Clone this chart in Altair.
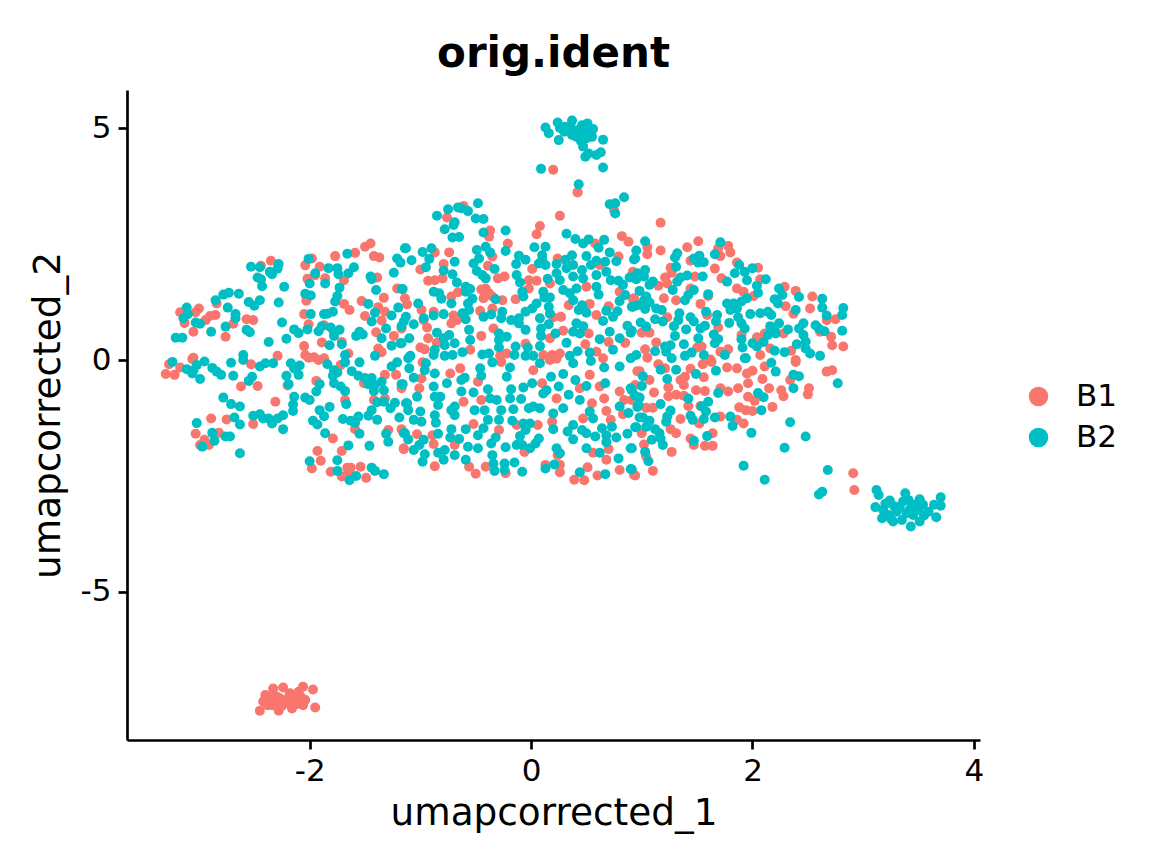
import altair as alt
import pandas as pd

b1_main = [
(-2.35,2.14),(-2.44,2.03),(-1.98,2.19),(-1.91,2.01),(-2.04,2.04),(-1.77,2.24),(-1.59,2.31),(-1.50,2.44),(-1.45,2.51),(-1.42,2.24),(-1.37,2.21),(-1.39,1.78),(-1.69,1.72),(-1.86,1.76),(-2.02,1.75),(-1.95,1.83),(-1.21,1.54),(-1.53,1.27),(-1.33,1.34),(-1.69,1.21),(-1.64,1.08),(-1.50,.95),(-1.38,1.14),(-1.32,1.04),(-1.35,.85),(-2.03,1.28),(-2.05,.99),(-2.01,.77),(-1.87,.75),(-1.40,.60),(-1.24,.52),(-1.89,.38),(-1.71,.39),(-2.05,.30),(-1.38,.25),(-1.35,.17),(-1.65,.14),(-2.04,.11),(-1.96,.06),(-1.87,.04),(-2.29,.09),(-3.05,.05),(-3.0,1.11),(-3.03,1.03),(-3.17,1.03),(-3.13,.80),(-3.05,.61),(-2.94,.86),(-2.90,.95),(-2.85,.97),(-2.84,1.22),(-2.69,.78),(-2.76,.50),(-2.57,.88),(-2.51,.86),
(-3.30,-.30),(-3.22,-.32),(-3.27,-.09),(-3.17,-.16),(-2.62,-.57),(-2.47,-.56),(-2.53,-.09),(-2.31,-.90),(-2.20,-.55),(-1.94,-.45),(-2.89,-1.26),(-2.75,-1.28),(-2.51,-1.38),(-3.03,-1.59),(-2.95,-1.72),(-2.91,-1.83),(-2.99,-1.83),(-2.82,-1.57),(-1.79,-1.69),(-1.59,-1.49),(-1.71,-1.96),(-1.93,-1.96),(-1.90,-2.17),(-1.98,-2.34),(-1.81,-2.41),(-1.66,-2.32),(-1.63,-2.32),(-1.65,-2.42),(-1.71,-2.51),(-1.54,-2.30),(-1.49,-2.54),(-1.68,-.86),(-1.42,-.86),(-1.32,-.32),(-1.22,-.32),(-1.29,-1.51),(-1.17,-1.49),(-1.15,-1.92),(-1.17,-.61),(-1.32,-.83),(-1.72,-.11),(-1.92,.0),(-2.01,.05),(-1.51,-.50),(-3.06,.02),
(.42,3.61),(.26,3.11),(.75,3.23),(-.76,3.07),(-.61,3.32),(-.37,2.79),(-.38,2.66),(.08,2.89),(.05,2.71),(-.21,2.51),(-.74,2.32),(-.79,2.07),(-1.0,1.95),(-.87,2.32),(-.35,2.23),(-.39,2.03),(-.30,1.76),(-.24,1.80),(-.93,1.71),(-.87,1.72),(-.80,1.76),(.01,1.96),(.24,2.19),(-.02,1.72),(.05,1.71),(-.02,1.54),(.17,1.65),(-.14,1.31),(-.26,1.29),(-.45,1.52),(-.41,1.54),(-.38,1.44),(-.43,1.33),(-.35,1.37),(-.66,1.46),(-1.14,1.33),(-1.12,1.20),(-.99,1.08),(-.97,.86),(-.94,.70),(-.88,1.04),(-.72,1.37),(-.70,.96),(-.67,.86),(-.72,.79),(-.46,1.06),(-.35,1.11),(-.45,.52),(-.34,.68),(-.93,.47),(-1.0,.27),(-.96,.23),(-.85,.37),(-.55,.22),(.34,1.18),(.53,1.21),(.59,.97),(.70,1.16),(.82,2.67),(.88,2.55),(.79,2.23),(.58,2.51),(.62,2.05),(.50,1.58),(.80,1.47),(.93,1.33),(.27,.93),(.20,.92),(.29,.63),(.17,.47),(.52,.57),(.49,.34),(.70,.39),(.85,.37),(.59,.18),(.65,.04),(-.05,.35),(-.22,.14),(-.28,.09),(.11,.11),(.19,.11),(.26,.14),(-1.17,.68),
(-.98,-.05),(-.99,-.40),(-1.01,-.61),(-.73,-.29),(-.64,-.18),(-.48,-.47),(-.45,-.86),(-.61,-.90),(-.27,-.04),(.02,-.22),(.23,.03),(.17,0),(.10,-.50),(.23,-.83),(.44,-.61),(.53,-.32),(.62,-.57),(.66,-.83),(.80,-.68),(.84,-.86),(.68,-1.10),(.72,-1.29),(.83,-1.17),(.91,-.86),(.96,-.24),(-.52,-1.38),(-1.03,-1.60),(-.89,-1.62),(-.88,-1.81),(-1.15,-1.90),(-.69,-1.83),(-.87,-2.29),(-.56,-2.30),(-.50,-2.45),(-.41,-2.30),(-.23,-2.44),(-.06,-1.98),(.06,-1.40),(.19,-1.33),(-.29,-1.51),(-.13,-1.40),(.13,-2.26),(.26,-2.42),(.24,-2.05),(.26,-2.26),(.39,-2.58),(.48,-2.59),(.51,-2.31),(.60,-2.49),(.80,-2.37),(.94,-2.49),(.68,-2.15),(.70,-1.92),(.56,-2.0),(.47,-1.26),(.55,-.93),
(1.17,2.96),(1.51,2.56),(1.41,2.43),(1.78,2.46),(1.80,2.32),(1.69,2.41),(1.71,2.24),(1.05,2.43),(1.05,2.28),(1.17,2.36),(1.44,2.14),(1.26,1.99),(1.27,1.88),(.92,1.90),(1.21,1.78),(1.23,1.65),(1.15,1.60),(1.48,1.80),(1.66,1.97),(1.72,1.76),(1.86,2.10),(2.05,1.99),(2.07,1.74),(1.86,1.54),(1.92,1.47),(2.01,1.38),(2.29,1.58),(2.39,1.49),(2.54,1.37),(2.30,1.16),(2.37,1.0),(2.52,1.11),(2.67,.86),(2.75,.88),(2.71,.50),(2.72,.32),(2.82,.29),(2.61,.61),(1.44,1.54),(1.20,1.33),(1.31,1.29),(1.60,1.38),(1.53,1.21),(1.59,.97),(.92,1.31),(1.23,.92),(1.69,.70),(1.0,.59),(1.07,.59),(1.13,.38),(1.50,.27),(1.54,.29),(1.78,.23),(1.71,.18),(2.11,.57),(2.04,.49),(2.28,.57),(2.16,.25),(1.90,.54),(2.35,.20),(2.07,.11),(1.03,.23),(1.62,.01),(2.39,.0),
(2.91,-2.44),(2.92,-2.80),(2.72,-.22),(2.67,-.25),(2.51,-.61),(2.50,-.74),(2.39,-.04),(2.34,-.43),(2.26,-.65),(2.28,-.78),(2.18,-1.01),(2.15,-.61),(2.09,-.41),(1.96,-.50),(1.87,-.61),(1.96,-.79),(2.02,-.88),(1.88,-1.02),(1.94,-1.08),(2.0,-1.10),(1.95,-.29),(2.0,-.23),(1.86,-.18),(2.11,-.14),(1.78,-.68),(1.71,-.61),(1.56,-.37),(1.49,-.65),(1.57,-.67),(1.42,-.99),(1.53,-.99),(1.35,-1.27),(1.52,-1.37),(1.71,-1.22),(1.92,-1.37),(1.86,-1.29),(1.31,-1.58),(1.26,-1.49),(1.27,-1.98),(1.44,-1.69),(1.47,-1.83),(1.57,-1.85),(1.64,-1.85),(1.64,-1.58),(1.10,-2.39),(.93,-2.48),(1.02,-1.82),(1.04,-2.08),(1.0,-1.58),(1.11,-.70),(1.24,-.78),(1.31,-.75),(1.38,-.77),(1.38,-.54),(1.24,-.59),(1.39,-.36),(1.35,-.43),(1.07,-.43),(1.04,-1.03),(1.10,-1.03),(.94,-.54),(.98,-.24),(1.15,-.09),(1.05,.05),(1.21,-.18),(1.44,-.19),(1.55,-.09),(1.63,-.04),(1.77,-.16),
(.20,4.10),(.42,3.62),
]

b1_cluster = [
(-2.45,-7.56),(-2.40,-7.22),(-2.42,-7.36),(-2.33,-7.08),(-2.24,-7.06),(-2.34,-7.44),(-2.28,-7.56),(-2.27,-7.29),(-2.18,-7.18),(-2.16,-7.51),(-2.13,-7.29),(-2.06,-7.04),(-2.10,-7.15),(-2.04,-7.33),(-2.06,-7.44),(-1.97,-7.10),(-1.95,-7.49),(-2.36,-7.29),(-2.22,-7.40),(-2.38,-7.44),(-2.30,-7.25),(-2.20,-7.30),(-2.12,-7.42),(-2.40,-7.30),(-2.33,-7.20),(-2.25,-7.45),(-2.15,-7.38),(-2.08,-7.26),(-2.28,-7.35),
]

b2_main = [
(-3.11,1.13),(-3.14,.90),(-3.10,.99),(-3.21,.48),(-3.15,.48),(-3.03,.81),(-2.99,.78),(-2.89,.61),(-2.85,1.29),(-2.78,1.41),(-2.73,1.45),(-2.64,1.43),(-2.74,1.13),(-2.67,.99),(-2.67,.90),(-2.76,.72),(-2.55,1.25),(-2.50,1.17),(-2.45,1.29),(-2.57,.65),(-2.54,.60),(-2.37,.39),(-2.25,.81),(-2.28,1.24),(-2.23,1.58),(-2.43,1.59),(-2.47,1.78),(-2.44,1.74),(-2.53,2.01),(-2.45,2.0),(-2.36,1.90),(-2.34,1.85),(-2.29,1.97),(-2.28,2.07),(-2.01,2.18),(-1.95,1.87),(-1.83,1.98),(-1.75,1.98),(-1.74,1.85),(-1.65,1.87),(-1.60,2.0),(-1.66,2.29),(-2.0,1.65),(-1.86,1.65),(-1.73,1.56),(-2.04,1.43),(-1.99,1.39),(-1.75,1.38),(-1.77,1.26),(-1.99,.99),(-1.87,.99),(-1.84,1.0),(-1.79,1.04),(-2.14,.66),(-2.10,.58),(-2.02,.66),(-1.92,.62),(-1.89,.73),(-1.81,.70),(-1.78,.61),(-1.78,.52),(-1.73,.65),(-2.21,.46),(-1.82,.32),(-1.71,.34),(-1.58,.52),(-1.55,.61),(-1.52,.55),(-1.45,1.80),(-1.44,1.74),(-1.40,1.51),(-1.47,1.21),(-1.41,1.02),(-1.44,.83),(-1.26,.96),(-1.31,.68),(-1.35,.47),(-1.26,.31),(-1.18,.36),(-1.20,1.13),(-1.17,1.53),(-1.24,1.88),(-1.18,2.10),(-1.21,2.19),(-1.14,2.41),(-1.13,.93),(-1.17,.73),(-2.60,.11),(-1.68,.11),(-1.41,.09),
(-3.24,-.04),(-3.11,-.20),(-3.05,-.22),(-3.02,-.11),(-2.95,-.03),(-3.06,-.29),(-2.99,-.41),(-2.88,-.17),(-2.84,-.25),(-2.80,-.32),(-2.71,-.06),(-2.69,-.34),(-2.60,0),(-2.52,-.36),(-2.55,-.45),(-2.45,-.14),(-2.40,-.07),(-2.33,-.07),(-2.17,-.07),(-2.14,-.18),(-2.09,-.12),(-2.10,-.32),(-2.21,-.34),(-2.19,-.52),(-1.84,-.09),(-1.78,-.22),(-1.75,-.27),(-1.79,-.34),(-1.78,-.50),(-1.72,-.57),(-1.68,-.67),(-1.91,-.52),(-1.94,-.68),(-1.68,-.05),(-1.55,-.05),(-1.62,-.24),(-1.56,-.34),(-1.50,-.39),(-1.44,-.39),(-1.47,-.52),(-1.41,-.54),(-1.35,-.47),(-1.42,-.67),(-1.33,-.65),(-1.26,-.14),(-1.21,-.05),(-1.17,-.52),(-2.78,-.81),(-2.71,-.95),(-2.63,-1.0),(-2.14,-.79),(-2.15,-.96),(-2.15,-1.10),(-2.04,-.81),(-2.0,-.86),(-1.82,-1.01),(-1.91,-1.08),(-1.87,-1.21),(-1.67,-.95),(-1.39,-.91),(-1.33,-.90),(-1.44,-1.08),(-1.23,-.92),(-1.27,-1.04),(-1.47,-1.20),(-1.39,-1.29),(-1.19,-1.24),(-1.13,-.93),(-1.70,-1.27),(-1.63,-1.31),(-1.56,-1.22),(-1.59,-1.35),(-2.51,-1.20),(-2.45,-1.17),(-2.42,-1.26),(-2.37,-1.26),(-2.34,-1.37),(-2.29,-1.26),(-2.24,-1.19),(-2.24,-1.49),(-2.68,-1.24),(-2.63,-1.39),(-3.02,-1.36),(-2.88,-1.57),(-2.86,-1.74),(-2.97,-1.87),(-2.76,-1.65),(-2.72,-1.65),(-2.63,-2.01),(-1.97,-1.31),(-1.93,-1.39),(-1.86,-1.58),(-1.55,-1.59),(-1.65,-1.84),(-1.46,-1.85),(-1.31,-1.59),(-1.29,-1.76),(-1.15,-1.58),(-2.0,-2.18),(-1.75,-2.16),(-1.75,-2.39),(-1.58,-2.50),(-1.64,-2.59),(-1.44,-2.32),(-1.41,-2.39),(-1.33,-2.46),
(-1.13,2.41),(-1.08,2.15),(-.98,2.33),(-.90,2.41),(-.92,2.18),(-.95,2.0),(-.79,1.93),(-.69,2.12),(-.71,1.85),(-.67,1.67),(-.85,3.11),(-.75,3.25),(-.66,3.29),(-.63,3.27),(-.57,3.21),(-.48,3.38),(-.50,3.05),(-.43,3.04),(-.69,2.97),(-.70,2.91),(-.78,2.82),(-.71,2.64),(-.65,2.65),(-.43,2.75),(-.23,2.79),(-.23,2.35),(-.41,2.44),(-.37,2.32),(-.49,2.37),(-.47,2.19),(-.52,2.08),(-.49,1.92),(-.44,1.83),(-.41,1.76),(-.33,1.96),(.03,2.43),(.13,2.44),(-.11,2.25),(-.05,2.16),(-.135,2.07),(-.13,1.83),(-.10,1.67),(.10,2.16),(.07,2.08),(.13,2.05),(.10,2.26),(.15,1.75),(.32,2.72),(.40,2.61),(.47,2.51),(.52,2.60),(.66,2.59),(.61,2.42),(.71,2.32),(.50,2.24),(.59,2.14),(.54,2.05),(.67,2.12),(.77,2.13),(.68,1.90),(.59,1.83),(.46,1.94),(.37,2.26),(.31,2.16),(.23,2.07),(.23,1.87),(.38,2.05),(.32,1.98),(.38,1.80),(.26,1.72),(.47,1.76),(.72,1.72),(.79,1.71),(.89,1.78),(.83,1.62),(.96,1.87),(.93,2.17),(.76,3.38),(.71,3.36),(.84,3.51),(.76,3.16),
(-1.16,1.53),(-.88,1.47),(-.83,1.44),(-.81,1.32),(-.72,1.22),(-1.02,1.22),(-.97,.90),(-.88,.96),(-.79,.99),(-.59,1.58),(-.55,1.53),(-.59,1.47),(-.53,1.32),(-.57,1.22),(-.56,1.08),(-.62,1.01),(-.59,.88),(-.32,1.31),(-.26,1.04),(-.27,.90),(-.43,.93),(-.36,.98),(-.18,.86),(-.11,.90),(-.05,1.04),(.01,1.11),(.05,1.22),(.11,1.47),(.12,1.35),(.17,1.35),(-.07,1.37),(-.08,1.47),(.16,1.15),(.17,1.0),(.08,.90),(-.05,.65),(-.11,.79),(.29,1.51),(.35,1.44),(.41,1.54),(.38,1.29),(.59,1.58),(.61,1.41),(.46,1.18),(.43,1.08),(.50,1.02),(.68,1.06),(.78,1.05),(.74,.93),(.85,1.40),(.80,1.27),(.91,1.15),(.96,1.18),(.65,.84),(.71,.61),(.87,.74),(.90,.59),(.80,.47),(.62,.45),(.74,.22),(.41,.79),(.47,.73),(.38,.61),(.44,.57),(.22,.57),(.16,.77),(.09,.68),(.09,.52),(.08,.30),(.32,.37),(.42,.19),(.53,.16),(.35,.09),(-.03,.27),(-.15,.11),(-.14,.29),(-.05,.09),(.02,.09),(-.29,.57),(-.22,.50),(-.29,.43),(-.29,.27),(-.38,.14),(-.44,.12),(-.56,.65),(-.55,.43),(-.69,.36),(-.85,.59),(-.79,.47),(-.74,.54),(-.78,.32),(-.87,.22),(-.88,.11),(-1.10,.47),(-1.15,.83),(-1.06,.77),(-1.17,.36),(-1.09,.09),(-.78,.09),(-.71,.11),(-.62,.17),
(-1.11,.04),(-1.10,-.18),(-.95,-.07),(-.96,-.22),(-1.06,-.38),(-1.16,-.52),(-.87,-.29),(-.88,-.57),(-.76,-.50),(-.63,-.43),(-.60,-.38),(-.63,-.68),(-.52,-.70),(-.46,-.18),(-.45,-.34),(-.35,-.05),(-.19,-.16),(-.22,-.36),(-.39,-.63),(-.18,-.63),(-.37,-.83),(-.31,-.86),(-.19,-.83),(-.09,-.84),(-.07,-.59),(.01,-.50),(.08,-.07),(.18,-.36),(.29,-.30),(.25,-.57),(.40,-.43),(.38,-.07),(.54,-.02),(.66,-.16),(.67,-.50),(.50,-.56),(.80,-.14),(.90,.04),(.90,-.61),(.80,-1.0),(.88,-1.14),(.97,-.97),(.95,-1.45),(.73,-1.44),(.64,-1.47),(.68,-1.62),(.68,-1.77),(.58,-1.65),(.87,-1.59),(.77,-1.67),(.90,-1.90),(.79,-2.12),(.90,-2.35),(.67,-2.46),(.44,-2.42),(.62,-2.0),(.50,-1.90),(.46,-1.51),(.50,-1.58),(.38,-1.40),(.33,-1.54),(.38,-1.71),(.53,-1.11),(.56,-1.26),(.44,-.86),(.34,-.75),(.29,-1.04),(.20,-1.15),(.11,-.72),(.14,-.65),(.02,-1.0),(-.02,-1.04),(.08,-1.04),(-.16,-1.06),(-.17,-1.31),(-.07,-1.37),(-.01,-1.37),(-.05,-1.51),(-.10,-1.64),(.07,-1.69),(.04,-1.80),(-.01,-1.90),(-.13,-1.83),(-.08,-1.83),(.20,-1.49),(.23,-1.90),(.26,-2.01),(.21,-2.25),(.13,-2.34),(-.08,-2.41),(-.15,-2.21),(-.24,-2.23),(-.24,-2.37),(-.34,-2.23),(-.33,-2.39),(-.35,-2.05),(-.23,-1.88),(-.32,-1.67),(-.36,-1.80),(-.27,-1.08),(-.29,-1.29),(-.39,-1.29),(-.43,-1.47),(-.51,-1.08),(-.42,-1.08),(-.69,-1.0),(-.72,-1.08),(-.69,-1.19),(-.87,-.79),(-.82,-.79),(-.84,-.97),(-1.03,-.79),(-1.12,-.93),(-1.11,-1.08),(-1.0,-1.11),(-.87,-1.19),(-.86,-1.35),(-.99,-1.33),(-1.06,-1.29),(-1.14,-1.58),(-1.11,-1.71),(-.97,-1.72),(-1.01,-1.83),(-1.06,-1.94),(-.96,-2.03),(-.98,-2.19),(-.79,-2.15),(-.84,-2.0),(-.78,-1.94),(-.69,-2.05),(-.84,-1.59),(-.72,-1.49),(-.73,-1.67),(-.65,-1.70),(-.59,-1.49),(-.57,-1.87),(-.48,-1.90),(-.48,-1.62),(-.59,-2.15),
(1.03,2.56),(.95,2.36),(.94,2.19),(1.32,2.30),(1.30,2.21),(1.31,2.01),(1.47,2.19),(1.52,2.25),(1.51,2.10),(1.56,2.11),(1.66,2.28),(1.71,2.54),(1.03,1.94),(1.02,1.80),(.95,1.74),(1.10,1.69),(1.07,1.62),(1.41,1.82),(1.35,1.78),(1.32,1.69),(1.28,1.51),(1.55,1.80),(1.47,1.51),(1.42,1.40),(1.39,1.29),(1.60,1.42),(.98,1.49),(1.04,1.37),(1.02,1.29),(1.07,1.24),(.92,1.15),(1.03,1.10),(1.13,1.11),(1.18,1.08),(1.12,.88),(1.19,.83),(.99,.81),(1.04,.72),(.91,.63),(1.34,1.01),(1.33,.86),(1.29,.73),(1.44,.92),(1.47,.83),(1.40,.66),(1.53,.68),(1.57,.74),(1.30,.52),(1.51,.47),(1.58,1.04),(1.68,.97),(1.67,.83),(1.79,.80),(1.77,1.22),(1.83,1.22),(1.80,1.08),(1.86,1.11),(1.90,1.26),(1.95,1.33),(1.87,.92),(1.90,.79),(1.93,.68),(1.98,.99),(2.07,1.01),(2.14,1.04),(2.17,.97),(2.04,1.60),(2.05,1.45),(2.12,1.74),(1.77,1.69),(1.88,2.05),(1.84,1.87),(1.93,1.90),(2.0,1.98),(1.95,1.72),(2.24,1.54),(2.27,1.40),(2.20,1.31),(2.23,1.22),(2.42,1.36),(2.39,1.08),(2.63,1.32),(2.63,1.13),(2.67,.96),(2.82,1.12),(2.81,.97),(2.81,.63),(2.57,.75),(2.60,.68),(2.65,.62),(2.46,.79),(2.42,.68),(2.46,.54),(2.48,.40),(2.40,.34),(2.48,.25),(2.20,.66),(2.24,.79),(2.32,.66),(2.16,.73),(2.14,.54),(2.21,.57),(2.10,.39),(2.0,.36),(2.04,.29),(1.90,.45),(1.91,.27),(1.65,.55),(1.69,.45),(1.66,.36),(1.38,.34),(1.26,.32),(1.21,.29),(1.12,.19),(1.22,.18),(.95,.11),(1.45,.16),(1.39,.09),(1.56,.11),(1.75,.11),(1.93,.04),(2.20,.20),(2.29,.17),(2.61,.09),(2.52,.14),(1.27,.04),
(1.17,-.21),(1.01,-.35),(1.0,-.56),(1.23,-.41),(1.31,-.21),(1.49,-.30),(1.67,-.23),(1.69,-.71),(1.42,-.83),(.91,-.65),(.94,-.77),(.98,-.81),(.96,-1.01),(1.17,-.95),(1.26,-1.09),(1.23,-1.22),(1.22,-1.33),(.98,-1.24),(1.01,-1.24),(1.07,-1.31),(1.04,-1.44),(.94,-1.45),(1.12,-1.49),(1.16,-1.58),(1.17,-1.69),(1.09,-1.72),(1.19,-1.83),(1.03,-1.98),(1.06,-2.18),(.91,-1.90),(.91,-2.36),(1.44,-1.20),(1.46,-1.29),(1.60,-.90),(1.54,-1.0),(1.58,-1.11),(1.56,-1.27),(1.66,-1.24),(1.80,-1.22),(1.82,-1.42),(1.47,-1.74),(1.59,-1.64),(1.99,-1.57),(2.05,-.71),(2.10,-.80),(2.08,-1.08),(2.17,-.06),(2.21,-.25),(2.37,-.32),(2.42,-.35),(2.37,-.61),(2.77,-.50),(1.94,.04),(2.34,-1.34),(2.48,-1.65),(2.29,-1.89),(1.92,-2.28),(2.11,-2.58),(2.68,-2.37),(2.63,-2.84),(2.60,-2.90),
]

b2_top = [
(.13,5.01),(.16,4.89),(.24,5.12),(.25,4.74),(.26,5.0),(.31,5.03),(.37,5.16),(.37,4.85),(.41,4.81),(.46,5.06),(.51,5.10),(.47,4.89),(.56,4.98),(.55,4.81),(.50,4.78),(.65,4.75),(.47,4.60),(.49,4.38),(.52,4.45),(.59,4.42),(.63,4.48),(.65,4.15),(.09,4.12),(.43,3.79),(.42,4.95),(.36,5.0),(.50,5.0),(.30,4.92),(.45,4.72),(.54,4.90),
]

b2_cluster = [
(3.12,-2.80),(3.14,-2.91),(3.11,-3.17),(3.17,-3.41),(3.18,-3.23),(3.24,-3.03),(3.27,-3.48),(3.23,-3.34),(3.38,-2.87),(3.35,-3.45),(3.33,-3.16),(3.41,-3.02),(3.43,-3.59),(3.45,-3.34),(3.51,-3.0),(3.51,-3.48),(3.54,-3.12),(3.50,-3.23),(3.59,-3.27),(3.66,-3.39),(3.70,-2.96),(3.70,-3.14),(3.64,-3.12),(3.30,-3.27),(3.39,-3.30),(3.20,-3.10),(3.28,-3.15),(3.46,-3.12),(3.42,-3.22),(3.55,-3.35),(3.25,-3.42),(3.36,-3.05),
]

x_ticks = [-2, 0, 2, 4]
y_ticks = [-5, 0, 5]
groups = ["B1", "B2"]
colors = ["#F8766D", "#00BFC4"]

rows = [("B1", x, y) for x, y in b1_main + b1_cluster] + \
       [("B2", x, y) for x, y in b2_main + b2_top + b2_cluster]
df = pd.DataFrame(rows, columns=["orig_ident", "umap1", "umap2"])

FONT = "DejaVu Sans"
chart = (
    alt.Chart(df, title=alt.Title("orig.ident", fontSize=42, font=FONT, fontWeight="bold",
                                  anchor="middle", color="black", offset=14))
    .mark_circle(size=100, opacity=1)
    .encode(
        x=alt.X("umap1:Q", scale=alt.Scale(domain=[-3.65, 4.055], nice=False, zero=False),
                axis=alt.Axis(values=x_ticks, title="umapcorrected_1", grid=False,
                              labelExpr="'' + datum.value")),
        y=alt.Y("umap2:Q", scale=alt.Scale(domain=[-8.19, 5.82], nice=False, zero=False),
                axis=alt.Axis(values=y_ticks, title="umapcorrected_2", grid=False, titlePadding=13,
                              labelExpr="'' + datum.value")),
        color=alt.Color("orig_ident:N", scale=alt.Scale(domain=groups, range=colors),
                        legend=alt.Legend(title=None, orient="none", legendX=896, legendY=291,
                                          symbolType="circle", symbolSize=380, labelFontSize=31,
                                          labelFont=FONT, labelColor="black", rowPadding=9,
                                          labelOffset=22, symbolStrokeWidth=0)),
    )
    .properties(width=853, height=650, padding={"left": 21, "top": 25, "right": 5, "bottom": 5})
    .configure_view(stroke=None)
    .configure_axis(domainColor="black", domainWidth=2.7, tickColor="black", tickWidth=2.7,
                    tickSize=9, labelColor="black", titleColor="black", labelFont=FONT,
                    titleFont=FONT, labelFontSize=31, titleFontSize=37.4, titleFontWeight="normal",
                    labelPadding=7, titlePadding=8)
)
chart.save("out.html", embed_options={"renderer": "svg", "actions": False})
